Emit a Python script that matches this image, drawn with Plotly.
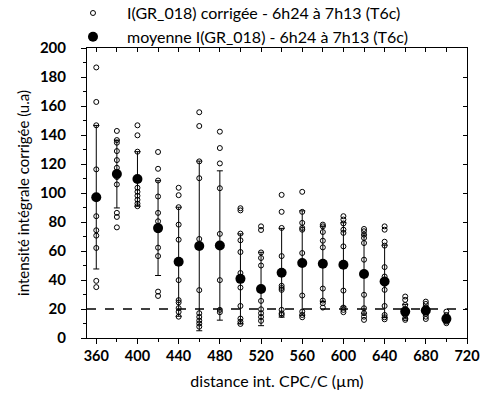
import plotly.graph_objects as go

distances = [360, 380, 400, 420, 440, 460, 480, 500, 520, 540, 560, 580, 600, 620, 640, 660, 680, 700]

individual_values = [
    [186.6, 162.8, 146.7, 116.3, 84.0, 74.3, 70.6, 62.1, 39.4, 35.1],
    [142.8, 136.5, 134.7, 128.9, 122.7, 117.4, 111.0, 105.9, 86.3, 83.5, 76.3],
    [146.7, 139.8, 128.5, 103.6, 100.8, 98.1, 95.3, 92.7, 90.9],
    [128.3, 116.7, 108.6, 97.6, 86.3, 80.5, 74.3, 62.3, 56.5, 32.0, 29.0],
    [103.6, 98.5, 90.2, 78.2, 67.8, 39.9, 26.1, 24.5, 20.6, 18.0, 14.7],
    [155.7, 146.2, 121.8, 110.2, 68.3, 33.0, 17.1, 14.5, 12.0, 10.0, 7.8],
    [142.3, 131.0, 120.4, 103.3, 71.8, 39.9, 19.4, 17.8],
    [89.5, 88.0, 72.0, 67.4, 59.3, 44.8, 34.8, 22.1, 13.4, 11.3, 9.7],
    [77.0, 74.5, 59.0, 55.2, 50.0, 25.6, 19.8, 17.1, 14.5, 11.8],
    [98.7, 87.0, 75.9, 56.5, 36.0, 34.5, 33.2, 19.4, 17.0, 15.9],
    [100.8, 87.0, 79.4, 75.9, 74.7, 58.6, 29.3, 18.2, 15.9, 14.3],
    [78.2, 77.0, 73.1, 67.1, 62.5, 34.1, 25.8, 24.0, 21.0],
    [84.0, 81.7, 79.0, 74.7, 72.5, 63.2, 32.7, 21.0, 19.4, 17.8],
    [75.2, 73.6, 71.3, 69.0, 65.5, 54.0, 29.8, 20.5, 17.1, 14.7, 12.5],
    [77.0, 74.7, 66.4, 63.7, 48.9, 42.4, 37.4, 33.2, 22.1, 15.9, 14.3, 12.9],
    [28.6, 26.3, 22.8, 19.8, 18.2, 15.9, 13.6, 12.5],
    [25.1, 23.5, 21.2, 19.4, 16.6, 14.7, 13.1],
    [18.2, 15.9, 13.6, 12.5, 11.3, 10.2],
]

means = [97.1, 113.1, 109.7, 75.8, 52.6, 63.5, 63.8, 40.8, 33.8, 45.0, 51.7, 51.2, 50.5, 44.1, 39.0, 18.2, 19.0, 13.2]
errors = [49.5, 23.4, 18.8, 32.7, 37.6, 58.5, 51.5, 31.0, 25.3, 30.6, 36.0, 26.0, 29.0, 27.0, 25.0, 5.0, 3.0, 1.5]

threshold = 20

x_tick_vals = [360, 400, 440, 480, 520, 560, 600, 640, 680, 720]
x_minor_vals = [380, 420, 460, 500, 540, 580, 620, 660, 700]
x_top_vals = [360, 380, 400, 420, 440, 460, 480, 500, 520, 540, 560, 580, 600, 620, 640, 660, 680, 700, 720]
y_tick_vals = [0, 20, 40, 60, 80, 100, 120, 140, 160, 180, 200]

label_font = "Lato"

px_x, px_y = [], []
for d, vals in zip(distances, individual_values):
    for v in vals:
        px_x.append(d)
        px_y.append(v)

fig = go.Figure()

fig.add_trace(go.Scatter(
    x=px_x, y=px_y, mode="markers",
    name="I(GR_018) corrigée - 6h24 à 7h13 (T6c)", legendgroup="a",
    marker=dict(symbol="circle-open", size=5, color="black", line=dict(width=1, color="black")),
))

fig.add_trace(go.Scatter(
    x=distances, y=means, mode="markers",
    name="moyenne I(GR_018) - 6h24 à 7h13 (T6c)", legendgroup="b",
    marker=dict(symbol="circle", size=10, color="black"),
    error_y=dict(type="data", array=errors, visible=True, color="black", thickness=1, width=3),
))

# invisible trace to hold the mirrored top/right axes
fig.add_trace(go.Scatter(x=[360], y=[0], xaxis="x2", yaxis="y2", mode="markers",
                         marker=dict(opacity=0), showlegend=False, hoverinfo="skip"))

fig.add_shape(type="line", xref="paper", yref="y", x0=0, x1=1, y0=threshold, y1=threshold,
              line=dict(color="black", width=1.5, dash="dash"))

xr = [351, 720]
yr = [0, 200]

fig.update_layout(
    width=480, height=398,
    margin=dict(l=87, r=13, t=48, b=60, autoexpand=False),
    paper_bgcolor="white", plot_bgcolor="white",
    font=dict(family=label_font, color="black"),
    showlegend=True,
    legend=dict(x=-0.0737, y=1.179, xanchor="left", yanchor="top", bgcolor="rgba(0,0,0,0)",
                font=dict(size=16, family=label_font), itemwidth=58,
                traceorder="grouped", tracegroupgap=0),
    xaxis=dict(
        range=xr, tickvals=x_tick_vals, ticks="outside", ticklen=5, tickwidth=1, tickcolor="black",
        showline=True, linecolor="black", linewidth=1, showgrid=False, zeroline=False,
        tickfont=dict(size=14.5, family=label_font, weight="bold"), ticklabeloverflow="allow",
        minor=dict(tickvals=x_minor_vals, ticks="outside", ticklen=3, tickcolor="black"),
        title=dict(text="distance int. CPC/C (µm)", font=dict(size=16, family=label_font), standoff=12),
    ),
    yaxis=dict(
        range=yr, tickvals=y_tick_vals, ticks="outside", ticklen=5, tickwidth=1, tickcolor="black",
        showline=True, linecolor="black", linewidth=1, showgrid=False, zeroline=False,
        tickfont=dict(size=15, family=label_font, weight="bold"), ticklabelstandoff=12,
        minor=dict(dtick=10, ticks="outside", ticklen=3, tickcolor="black"),
        title=dict(text="intensité intégrale corrigée (u.a)", font=dict(size=15, family=label_font), standoff=6),
    ),
    xaxis2=dict(
        range=xr, overlaying="x", side="top", anchor="y2", tickvals=x_top_vals,
        ticks="inside", ticklen=4, tickcolor="black", showticklabels=False,
        showline=True, linecolor="black", linewidth=1, showgrid=False, zeroline=False,
    ),
    yaxis2=dict(
        range=yr, overlaying="y", side="right", anchor="x2", tickvals=y_tick_vals,
        ticks="inside", ticklen=4, tickcolor="black", showticklabels=False,
        showline=True, linecolor="black", linewidth=1, showgrid=False, zeroline=False,
    ),
)

fig.write_html("out.html", config={"displayModeBar": False},
               post_script="document.body.style.margin='0';")
